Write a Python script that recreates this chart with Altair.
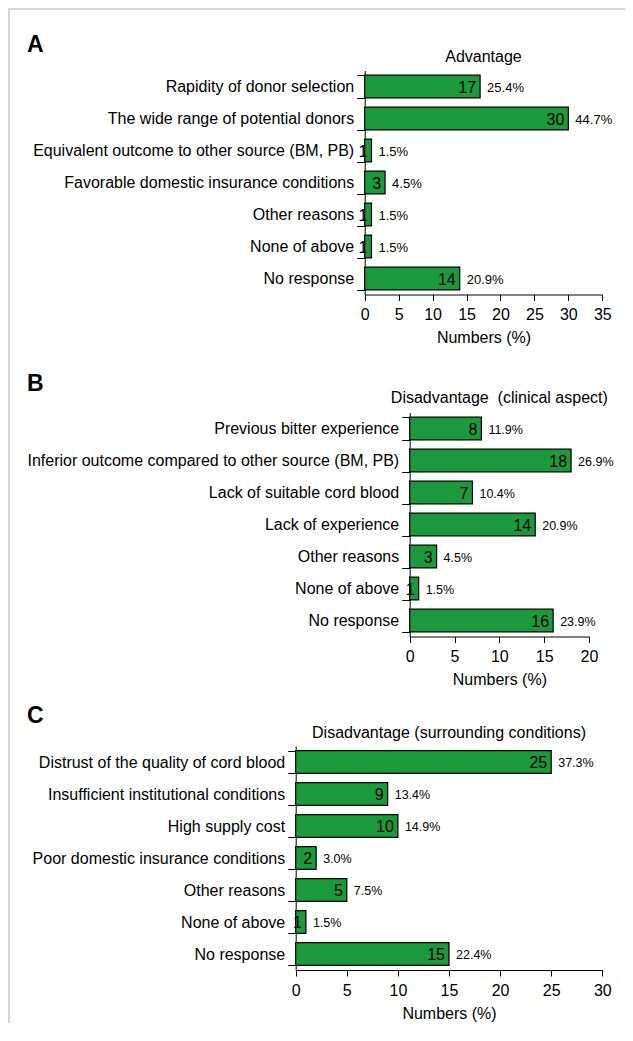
import altair as alt
import pandas as pd

# ---------------- data ----------------
a_labels = ["Rapidity of donor selection", "The wide range of potential donors",
            "Equivalent outcome to other source (BM, PB)", "Favorable domestic insurance conditions",
            "Other reasons", "None of above", "No response"]
a_counts = [17, 30, 1, 3, 1, 1, 14]
a_pcts = ["25.4%", "44.7%", "1.5%", "4.5%", "1.5%", "1.5%", "20.9%"]

b_labels = ["Previous bitter experience", "Inferior outcome compared to other source (BM, PB)",
            "Lack of suitable cord blood", "Lack of experience", "Other reasons",
            "None of above", "No response"]
b_counts = [8, 18, 7, 14, 3, 1, 16]
b_pcts = ["11.9%", "26.9%", "10.4%", "20.9%", "4.5%", "1.5%", "23.9%"]

c_labels = ["Distrust of the quality of cord blood", "Insufficient institutional conditions",
            "High supply cost", "Poor domestic insurance conditions", "Other reasons",
            "None of above", "No response"]
c_counts = [25, 9, 10, 2, 5, 1, 15]
c_pcts = ["37.3%", "13.4%", "14.9%", "3.0%", "7.5%", "1.5%", "22.4%"]

titles = ["Advantage", "Disadvantage\u00a0 (clinical aspect)", "Disadvantage (surrounding conditions)"]
letters = ["A", "B", "C"]
x_maxes = [35, 20, 30]

# ---------------- style / layout ----------------
W, H = 617, 1015
FONT = "Liberation Sans"
GREEN = "#1b9a3c"


def panel(labels, counts, pcts, xmax, x0, x1, ytop, ybot, title, title_y, pct_size):
    df = pd.DataFrame({"label": labels, "count": counts, "pct": pcts})
    xscale = alt.Scale(domain=[0, xmax], range=[x0, x1], nice=False, zero=True)
    yscale = alt.Scale(domain=labels, range=[ytop, ybot], paddingInner=0.29, paddingOuter=0.145)
    xaxis = alt.Axis(orient="bottom", offset=ybot - H, values=list(range(0, xmax + 1, 5)),
                     title="Numbers (%)", titleFontSize=16, titleFontWeight="normal",
                     titleFont=FONT, titleColor="black", titlePadding=7,
                     labelFont=FONT, labelFontSize=16, labelColor="black", labelPadding=6,
                     labelFlush=False, labelOverlap=False, tickSize=6, tickColor="black",
                     domainColor="black", tickWidth=1, domainWidth=1, grid=False)
    yaxis = alt.Axis(orient="left", offset=-x0, labelFont=FONT, labelFontSize=16,
                     labelColor="black", labelPadding=3, labelLimit=500, tickSize=8,
                     tickBand="extent", tickColor="black", domainColor="black",
                     tickWidth=1, domainWidth=1, grid=False)
    base = alt.Chart(df)
    bars = base.mark_bar(fill=GREEN, stroke="black", strokeWidth=1.2).encode(
        x=alt.X("count:Q", scale=xscale, axis=xaxis),
        y=alt.Y("label:N", scale=yscale, sort=None, axis=yaxis, title=None),
    )
    nums = base.mark_text(align="right", baseline="middle", dx=-4, dy=1, fontSize=16,
                          font=FONT, color="black").encode(
        x="count:Q", y=alt.Y("label:N", sort=None, title=None), text="count:Q")
    pct = base.mark_text(align="left", baseline="middle", dx=7, dy=1, fontSize=pct_size,
                         font=FONT, color="black").encode(
        x="count:Q", y=alt.Y("label:N", sort=None, title=None), text="pct:N")
    ttl = alt.Chart(pd.DataFrame({"t": [title]})).mark_text(
        align="center", baseline="middle", fontSize=16, font=FONT, color="black").encode(
        x=alt.datum(xmax / 2), y=alt.value(title_y), text="t:N")
    return alt.layer(bars, nums, pct, ttl)


pA = panel(a_labels, a_counts, a_pcts, x_maxes[0], 356.7, 594.3, 62.5, 286.5, titles[0], 49, 13)
pB = panel(b_labels, b_counts, b_pcts, x_maxes[1], 401.7, 581.0, 404.5, 628.5, titles[1], 390, 12.5)
pC = panel(c_labels, c_counts, c_pcts, x_maxes[2], 287.7, 594.3, 738.0, 962.0, titles[2], 725, 12.5)


def letter(t, y):
    return alt.Chart(pd.DataFrame({"t": [t]})).mark_text(
        align="left", baseline="middle", fontSize=23, fontWeight="bold", font=FONT,
        color="black").encode(x=alt.value(19), y=alt.value(y), text="t:N")


frame_top = alt.Chart(pd.DataFrame({"a": [0]})).mark_rule(color="#d6d6d6", strokeWidth=2).encode(
    x=alt.value(0), x2=alt.value(W), y=alt.value(1))
frame_left = alt.Chart(pd.DataFrame({"a": [0]})).mark_rule(color="#d6d6d6", strokeWidth=2).encode(
    x=alt.value(1), y=alt.value(0), y2=alt.value(H))

chart = alt.layer(
    frame_top, frame_left, pA, pB, pC,
    letter(letters[0], 37), letter(letters[1], 376), letter(letters[2], 708),
).resolve_scale(x="independent", y="independent").properties(
    width=W, height=H, padding=0, autosize=alt.AutoSizeParams(type="none")
).configure_view(strokeOpacity=0)

chart.save("out.html", embed_options={"renderer": "svg", "actions": False})
